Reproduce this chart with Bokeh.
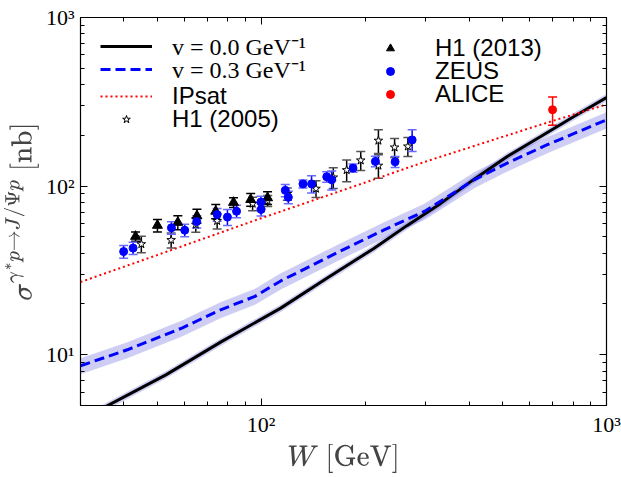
import numpy as np
from bokeh.plotting import figure
from bokeh.models import (LogAxis, Legend, LegendItem, Whisker, ColumnDataSource,
                          TeeHead, Range1d, FixedTicker, CustomJSTickFormatter)
from bokeh.embed import file_html
from bokeh.resources import INLINE

# ---------------- data ----------------
w_v00 = [30, 35, 53, 77, 114, 155, 212, 265, 331, 414, 516, 645, 805, 1000]
s_v00 = [4.15, 4.85, 7.6, 12.0, 18.9, 28.4, 42.7, 58.5, 79, 110, 150, 197, 259, 335]
band_v00 = 0.05

w_v03 = [30, 41, 59, 76, 96, 114, 170, 227, 297, 354, 414, 516, 674, 1000]
s_v03 = [8.6, 10.7, 14.4, 18.4, 22.2, 27.4, 41.3, 55.0, 70.8, 88.8, 109, 137, 176, 247]
band_v03 = 0.11

w_ipsat = [30, 50, 100, 200, 300, 500, 700, 1000]
s_ipsat = [27, 39, 64.5, 105, 140, 196, 244, 305]

h05_w = [45.0, 54.9, 64.7, 74.6, 94.5, 104.5, 119.1, 144.2, 161.8, 176.9, 194.3, 218.6, 218.6, 243.5, 266.0]
h05_s = [45.3, 47.9, 59.1, 62.2, 78.7, 81.8, 90.0, 96.6, 112.6, 124.5, 142.1, 132.3, 186.2, 169.7, 172.0]
h05_e = [5.1, 4.9, 5.9, 6.6, 7.3, 6.2, 7.6, 11.1, 15.8, 18.2, 18.5, 21, 30, 22, 22]

h13_w = [43.3, 50.1, 57.4, 65.2, 73.9, 83.2, 93.3, 104.4]
h13_s = [50.3, 58.5, 60.9, 66.6, 70.9, 80.0, 83.2, 85.2]
h13_e = [3.2, 5.0, 5.8, 6.4, 6.8, 5.2, 7.2, 7.4]

zeus_w = [40.0, 42.6, 55.0, 60.1, 65.1, 74.6, 79.9, 84.9, 99.9, 100.0, 117.5, 119.9,
          132.2, 140.0, 154.9, 160.1, 184.5, 214.2, 244.3, 273.7]
zeus_s = [40.9, 42.9, 56.6, 54.8, 61.6, 67.8, 65.5, 70.9, 80.4, 72.7, 94.4, 85.8,
          103.1, 103.1, 113.6, 109.0, 127.9, 140.2, 139.4, 188.0]
zeus_e = [3.5, 3.6, 4.8, 4.7, 5.2, 5.8, 7.1, 6.0, 6.8, 6.2, 8.0, 7.3,
          5.8, 12, 8.1, 14, 7.2, 10, 10.5, 27.6]

alice_w = [698]
alice_s = [283.7]
alice_e = [54]

x_major = [100, 1000]
x_minor = [40, 50, 60, 70, 80, 90, 200, 300, 400, 500, 600, 700, 800, 900]
y_major = [10, 100, 1000]
y_minor = [6, 7, 8, 9, 20, 30, 40, 50, 60, 70, 80, 90, 200, 300, 400, 500, 600, 700, 800, 900]
x_tick_labels = {100: "10²", 1000: "10³"}
y_tick_labels = {10: "10¹", 100: "10²", 1000: "10³"}

# ---------------- figure ----------------
p = figure(frame_width=526, frame_height=388, x_axis_type="log", y_axis_type="log",
           x_range=Range1d(30, 1000), y_range=Range1d(5, 1000),
           output_backend="svg", toolbar_location=None,
           min_border_left=72, min_border_right=15, min_border_top=17, min_border_bottom=55)
p.xgrid.visible = False
p.ygrid.visible = False
p.outline_line_color = "black"
p.outline_line_width = 1.2
p.background_fill_color = "white"

SERIF = "Liberation Serif"
SANS = "Liberation Sans"

def style_axis(ax, major, minor, labels):
    ax.ticker = FixedTicker(ticks=major, minor_ticks=minor)
    ax.major_tick_in = 7
    ax.major_tick_out = 0
    ax.minor_tick_in = 4
    ax.minor_tick_out = 0
    ax.axis_line_color = "black"
    ax.major_tick_line_color = "black"
    ax.minor_tick_line_color = "black"
    if labels is None:
        ax.formatter = CustomJSTickFormatter(code="return '';")
        ax.major_label_standoff = 0
    else:
        ax.major_label_overrides = labels
        ax.major_label_text_font = SERIF
        ax.major_label_text_font_size = "22px"
        ax.major_label_text_color = "black"

style_axis(p.xaxis[0], x_major, x_minor, x_tick_labels)
style_axis(p.yaxis[0], y_major, y_minor, y_tick_labels)
p.xaxis[0].major_label_standoff = 6
p.yaxis[0].major_label_standoff = 6

p.xaxis[0].axis_label = r"$$W\ [\mathrm{GeV}]$$"
p.yaxis[0].axis_label = r"$$\sigma^{\gamma^* p\rightarrow J/\Psi p}\ [\mathrm{nb}]$$"
p.xaxis[0].axis_label_text_font_size = "24px"
p.yaxis[0].axis_label_text_font_size = "24px"
p.xaxis[0].axis_label_standoff = 4
p.yaxis[0].axis_label_standoff = 4

top_ax = LogAxis()
right_ax = LogAxis()
style_axis(top_ax, x_major, x_minor, None)
style_axis(right_ax, y_major, y_minor, None)
p.add_layout(top_ax, "above")
p.add_layout(right_ax, "right")

# bands
v00 = np.array(s_v00)
v03 = np.array(s_v03)
p.varea(x=w_v03, y1=v03 * (1 - band_v03), y2=v03 * (1 + band_v03),
        fill_color="#3b3bd6", fill_alpha=0.25)
p.varea(x=w_v00, y1=v00 * (1 - band_v00), y2=v00 * (1 + band_v00),
        fill_color="#3b3bd6", fill_alpha=0.25)

r_v00 = p.line(w_v00, s_v00, line_color="black", line_width=3)
r_v03 = p.line(w_v03, s_v03, line_color="#0000ff", line_width=3, line_dash="10 5")
r_ip = p.line(w_ipsat, s_ipsat, line_color="#ff0000", line_width=2, line_dash="2 3")

def errbars(w, s, e, color, cap_color):
    src = ColumnDataSource(dict(x=w, lo=[a - b for a, b in zip(s, e)],
                                hi=[a + b for a, b in zip(s, e)]))
    wh = Whisker(source=src, base="x", lower="lo", upper="hi", dimension="height",
                 line_color=color, line_width=1.5,
                 upper_head=TeeHead(size=9, line_color=cap_color, line_width=1.5),
                 lower_head=TeeHead(size=9, line_color=cap_color, line_width=1.5))
    p.add_layout(wh)

errbars(h05_w, h05_s, h05_e, "black", "#555555")
errbars(h13_w, h13_s, h13_e, "black", "black")
errbars(zeus_w, zeus_s, zeus_e, "#0000ff", "#6a6aff")
errbars(alice_w, alice_s, alice_e, "#ff0000", "#ff0000")

r_h05 = p.scatter(h05_w, h05_s, marker="star", size=9, fill_color="white",
                  line_color="black", line_width=1)
r_h13 = p.scatter(h13_w, h13_s, marker="triangle", size=10, fill_color="black",
                  line_color="black")
r_zeus = p.scatter(zeus_w, zeus_s, marker="circle", size=8, fill_color="#0000ff",
                   line_color="#0000ff")
r_alice = p.scatter(alice_w, alice_s, marker="circle", size=8, fill_color="#ff0000",
                    line_color="#ff0000")

def make_legend(label, renderer, loc, font, size, glyph_w, standoff):
    lg = Legend(items=[LegendItem(label=label, renderers=[renderer])], location=loc,
                background_fill_alpha=0, border_line_alpha=0, padding=0, margin=0,
                spacing=0, glyph_width=glyph_w, glyph_height=20, label_height=20,
                label_standoff=standoff, label_text_font=font,
                label_text_font_size=size, label_text_color="black")
    p.add_layout(lg)

make_legend("v = 0.0 GeV⁻¹", r_v00, (20, 343), SERIF, "24px", 52, 20)
make_legend("v = 0.3 GeV⁻¹", r_v03, (20, 320), SERIF, "24px", 52, 20)
make_legend("IPsat", r_ip, (20, 295), SANS, "24px", 52, 20)
make_legend("H1 (2005)", r_h05, (20, 272), SANS, "24px", 52, 20)
make_legend("H1 (2013)", r_h13, (300, 343), SANS, "24px", 20, 35)
make_legend("ZEUS", r_zeus, (300, 320), SANS, "24px", 20, 35)
make_legend("ALICE", r_alice, (300, 297), SANS, "24px", 20, 35)

open("out.html", "w").write(file_html(p, INLINE))
